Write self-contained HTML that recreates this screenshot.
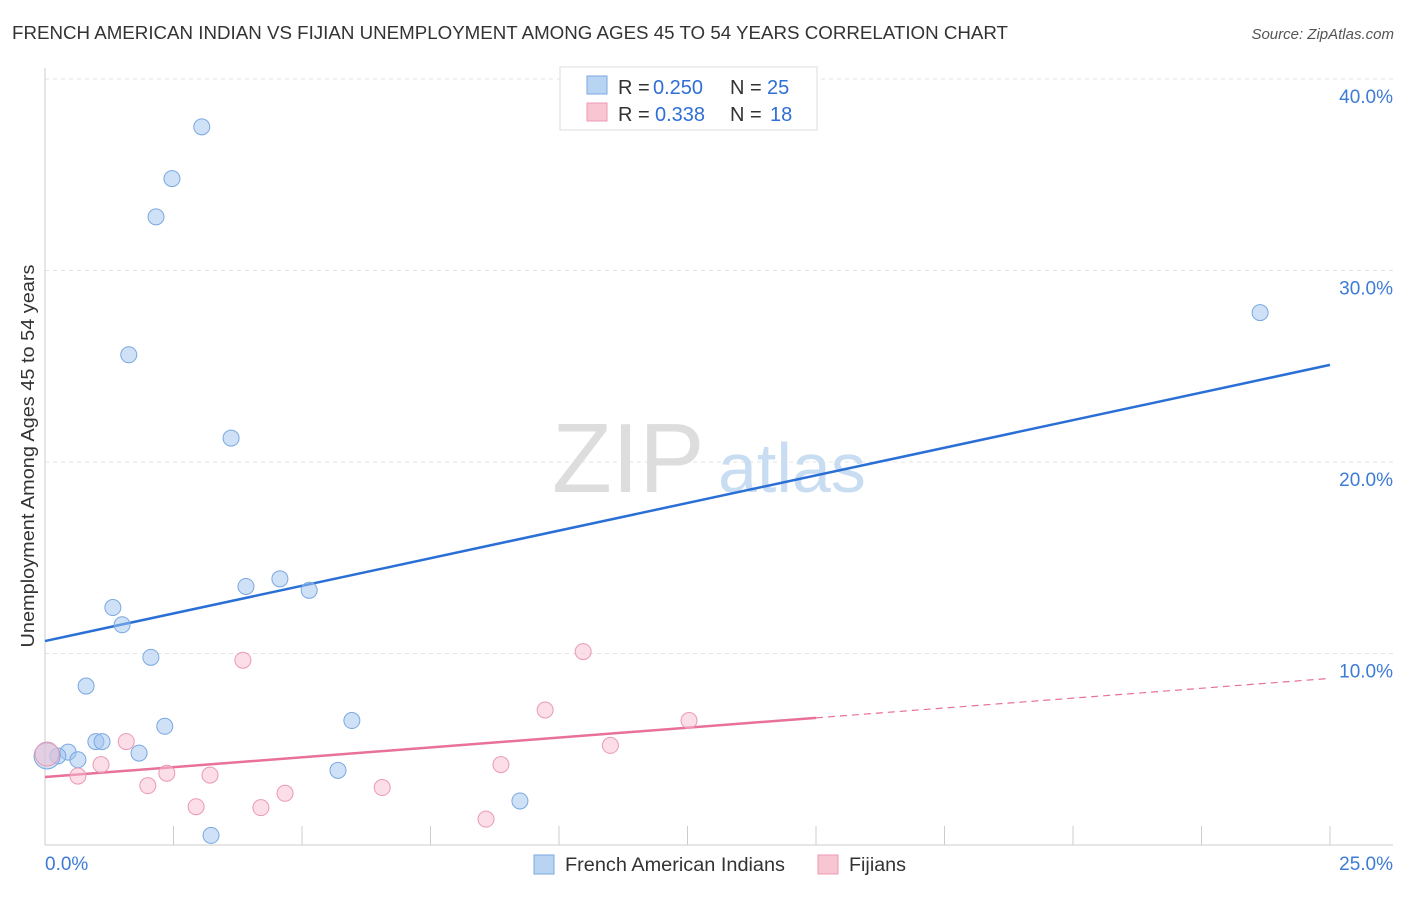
<!DOCTYPE html>
<html><head><meta charset="utf-8"><style>
body{margin:0;background:#fff;font-family:"Liberation Sans",sans-serif;}
svg text{font-family:"Liberation Sans",sans-serif;}
</style></head><body>
<svg id="chart" width="1406" height="892" viewBox="0 0 1406 892" xmlns="http://www.w3.org/2000/svg">
<text x="12" y="39" font-size="18" fill="#333" textLength="996" lengthAdjust="spacingAndGlyphs">FRENCH AMERICAN INDIAN VS FIJIAN UNEMPLOYMENT AMONG AGES 45 TO 54 YEARS CORRELATION CHART</text>
<text x="1394" y="39" font-size="15" fill="#555" font-style="italic" text-anchor="end">Source: ZipAtlas.com</text>
<g id="grid"></g>
<g id="axes"></g>
<text x="552" y="492" font-size="98" fill="#ddd" font-family="Liberation Serif">ZIP</text>
<text x="718" y="492" font-size="70" fill="#c8dcf2">atlas</text>
<g id="lines"></g>
<g id="points"></g>
<text transform="translate(34,456) rotate(-90)" font-size="18" fill="#333" text-anchor="middle" textLength="383" lengthAdjust="spacingAndGlyphs">Unemployment Among Ages 45 to 54 years</text>
<g>
<rect x="560" y="67" width="257" height="63" fill="#fff" stroke="#ddd"/>
<rect x="587" y="76" width="20" height="18" fill="#b9d3f3" stroke="#7aa8e0"/>
<rect x="587" y="103" width="20" height="18" fill="#f8c5d3" stroke="#eb9ab2"/>
<g font-size="20">
<text x="618" y="94" fill="#333">R =</text><text x="653" y="94" fill="#2f6fd6">0.250</text>
<text x="730" y="94" fill="#333">N =</text><text x="767" y="94" fill="#2f6fd6">25</text>
</g>
<g font-size="20">
<text x="618" y="121" fill="#333">R =</text><text x="655" y="121" fill="#2f6fd6">0.338</text>
<text x="730" y="121" fill="#333">N =</text><text x="770" y="121" fill="#2f6fd6">18</text>
</g>
</g>
<g>
<rect x="534" y="855" width="20" height="19" fill="#b9d3f3" stroke="#7aa8e0"/>
<text x="565" y="871" font-size="19" fill="#333" textLength="220" lengthAdjust="spacingAndGlyphs">French American Indians</text>
<rect x="818" y="855" width="20" height="19" fill="#f8c5d3" stroke="#eb9ab2"/>
<text x="849" y="871" font-size="19" fill="#333" textLength="57" lengthAdjust="spacingAndGlyphs">Fijians</text>
</g>
</svg>
<script>
const yTicks=[10,20,30,40];
const yTickLabels=["10.0%","20.0%","30.0%","40.0%"];
const blueX=[3.05,2.47,2.16,1.63,3.62,23.64,4.57,3.91,5.14,1.32,1.50,2.06,0.80,2.33,5.97,0.99,1.11,1.83,0.45,0.64,0.25,0.04,5.70,9.24,3.23];
const blueY=[37.5,34.8,32.8,25.6,21.25,27.8,13.9,13.5,13.3,12.4,11.5,9.8,8.3,6.2,6.5,5.4,5.4,4.8,4.85,4.45,4.65,4.65,3.9,2.3,0.5];
const pinkX=[3.85,10.47,9.73,12.53,11.0,1.58,1.09,8.87,0.64,2.37,3.21,2.0,4.67,6.56,2.94,4.2,8.58,0.04];
const pinkY=[9.65,10.1,7.05,6.5,5.2,5.4,4.2,4.2,3.6,3.75,3.65,3.1,2.7,3.0,2.0,1.95,1.35,4.75];
const blueTrend=[10.65,25.07];
const pinkTrend=[3.55,8.7];
const pinkSolidEnd=15;
const X0=45,X1=1330,Y0=845,PX=(X1-X0)/25,PY=19.15;
const sx=v=>X0+v*PX, sy=v=>Y0-v*PY;
const NS="http://www.w3.org/2000/svg";
function mk(tag,attrs,parent){const e=document.createElementNS(NS,tag);for(const k in attrs)e.setAttribute(k,attrs[k]);document.getElementById(parent).appendChild(e);return e;}
yTicks.forEach((t,i)=>{
 const l=mk('line',{x1:X0,x2:1393,y1:sy(t),y2:sy(t),stroke:'#e3e3e3','stroke-dasharray':'4,4'},'grid');
 
 
 const tx=mk('text',{x:1393,y:sy(t)+24,'font-size':19,fill:'#3d7bd6','text-anchor':'end'},'grid');
 tx.textContent=yTickLabels[i];
 
 
});
const ax=mk('line',{x1:X0,x2:X0,y1:68,y2:Y0,stroke:'#ccc'},'axes');


const bx=mk('line',{x1:X0,x2:1393,y1:Y0,y2:Y0,stroke:'#ccc'},'axes');


for(let i=0;i<=10;i++){
 const tk=mk('line',{x1:sx(i*2.5),x2:sx(i*2.5),y1:826,y2:Y0,stroke:'#ccc'},'axes');
 
 
}
const xl=mk('text',{x:45,y:870,'font-size':19,fill:'#3d7bd6'},'axes');xl.textContent='0.0%';


const xr=mk('text',{x:1393,y:870,'font-size':19,fill:'#3d7bd6','text-anchor':'end'},'axes');xr.textContent='25.0%';


const bl=mk('line',{x1:sx(0),y1:sy(blueTrend[0]),x2:sx(25),y2:sy(blueTrend[1]),stroke:'#2a6fd6','stroke-width':2.5},'lines');


const pAt=x=>pinkTrend[0]+(pinkTrend[1]-pinkTrend[0])*x/25;
const pl=mk('line',{x1:sx(0),y1:sy(pAt(0)),x2:sx(pinkSolidEnd),y2:sy(pAt(pinkSolidEnd)),stroke:'#e8709a','stroke-width':2.5},'lines');


const pd=mk('line',{x1:sx(pinkSolidEnd),y1:sy(pAt(pinkSolidEnd)),x2:sx(25),y2:sy(pAt(25)),stroke:'#e8709a','stroke-width':1.2,'stroke-dasharray':'7,5'},'lines');


blueX.forEach((x,i)=>{
 const c=mk('circle',{cx:sx(x),cy:sy(blueY[i]),r:(i==21?13:8),fill:'rgba(160,195,240,0.5)',stroke:'#7aa8e0','stroke-width':1},'points');
 
 
});
pinkX.forEach((x,i)=>{
 const c=mk('circle',{cx:sx(x),cy:sy(pinkY[i]),r:(i==17?12:8),fill:'rgba(248,190,208,0.5)',stroke:'#eb9ab2','stroke-width':1},'points');
 
 
});
</script>
</body></html>
